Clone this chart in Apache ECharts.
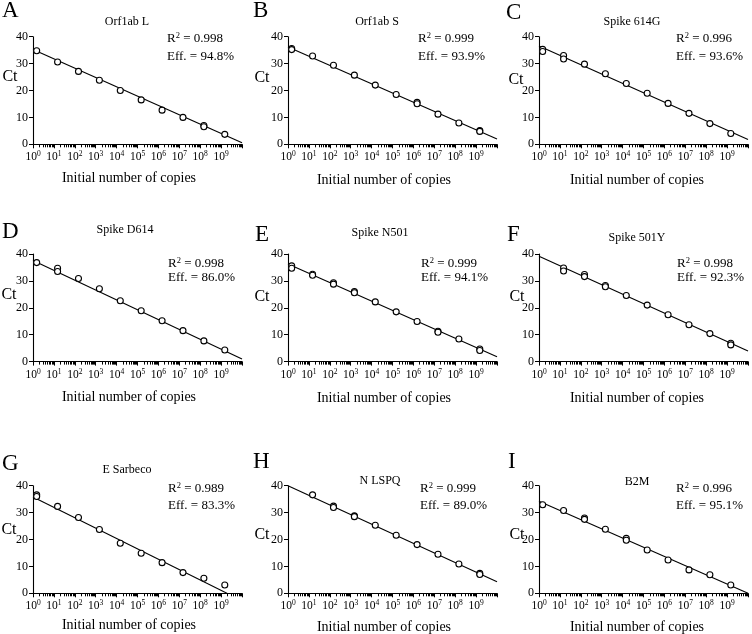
<!DOCTYPE html>
<html><head><meta charset="utf-8">
<script src="https://cdn.jsdelivr.net/npm/echarts@6/dist/echarts.min.js"></script>
<style>html,body{margin:0;padding:0;background:#fff}#c{width:752px;height:634px}</style>
</head><body><div id="c"></div>
<script>
// ---------- data ----------
const panelLetters = ['A','B','C','D','E','F','G','H','I'];
const panelTitles = ['Orf1ab L','Orf1ab S','Spike 614G','Spike D614','Spike N501','Spike 501Y','E Sarbeco','N LSPQ','B2M'];
const r2Values = ['0.998','0.999','0.996','0.998','0.999','0.998','0.989','0.999','0.996'];
const effValues = ['94.8%','93.9%','93.6%','86.0%','94.1%','92.3%','83.3%','89.0%','95.1%'];
const xTickExponents = [0,1,2,3,4,5,6,7,8,9,10];
const xLabelExponents = [0,1,2,3,4,5,6,7,8,9];
const yTicks = [0,10,20,30,40];
const xAxisTitle = 'Initial number of copies';
const yAxisTitle = 'Ct';

const copiesA = [1.5,15,150,1.5e3,1.5e4,1.5e5,1.5e6,1.5e7,1.5e8,1.5e8,1.5e9];
const ctA     = [34.8,30.6,27.1,23.8,20.0,16.5,12.7,10.0,7.0,6.5,3.7];
const fitCopiesA = [1,1e10]; const fitCtA = [35.2,0.6];

const copiesB = [1.5,1.5,15,150,1.5e3,1.5e4,1.5e5,1.5e6,1.5e6,1.5e7,1.5e8,1.5e9,1.5e9];
const ctB     = [35.6,35.2,32.8,29.4,25.7,22.0,18.5,15.6,15.1,11.2,7.9,5.1,4.8];
const fitCopiesB = [1,1e10]; const fitCtB = [36.2,2.0];

const copiesC = [1.5,1.5,15,15,150,1.5e3,1.5e4,1.5e5,1.5e6,1.5e7,1.5e8,1.5e9];
const ctC     = [35.3,34.5,33.0,31.7,29.8,26.2,22.6,19.0,15.2,11.5,7.7,4.0];
const fitCopiesC = [1,1e10]; const fitCtC = [36.5,1.8];

const copiesD = [1.5,15,15,150,1.5e3,1.5e4,1.5e5,1.5e6,1.5e7,1.5e8,1.5e9];
const ctD     = [36.8,34.7,33.5,30.9,27.1,22.6,18.9,15.2,11.5,7.7,4.3];
const fitCopiesD = [1,1e10]; const fitCtD = [37.6,1.0];

const copiesE = [1.5,1.5,15,15,150,150,1.5e3,1.5e3,1.5e4,1.5e5,1.5e6,1.5e7,1.5e7,1.5e8,1.5e9,1.5e9];
const ctE     = [35.6,34.7,32.5,32.1,29.3,28.8,26.0,25.6,22.2,18.5,14.9,11.3,10.9,8.4,4.7,4.1];
const fitCopiesE = [1,1e10]; const fitCtE = [36.3,1.8];

const copiesF = [15,15,150,150,1.5e3,1.5e3,1.5e4,1.5e5,1.5e6,1.5e7,1.5e8,1.5e9,1.5e9];
const ctF     = [34.8,33.7,32.4,31.6,28.3,27.8,24.6,21.0,17.4,13.7,10.4,6.8,6.2];
const fitCopiesF = [1,1e10]; const fitCtF = [39.2,3.9];

const copiesG = [1.5,1.5,15,150,1.5e3,1.5e4,1.5e5,1.5e6,1.5e7,1.5e8,1.5e9];
const ctG     = [36.6,36.0,32.3,28.2,23.7,18.6,14.9,11.4,7.7,5.6,3.1];
const fitCopiesG = [1,1.9e9]; const fitCtG = [35.8,0];

const copiesH = [15,150,150,1.5e3,1.5e3,1.5e4,1.5e5,1.5e6,1.5e7,1.5e8,1.5e9,1.5e9];
const ctH     = [36.6,32.4,31.9,28.8,28.5,25.3,21.6,18.1,14.5,10.9,7.4,7.0];
const fitCopiesH = [1,1e10]; const fitCtH = [40.0,4.3];

const copiesI = [1.5,15,150,150,1.5e3,1.5e4,1.5e4,1.5e5,1.5e6,1.5e7,1.5e8,1.5e9];
const ctI     = [32.9,30.8,28.0,27.5,23.8,20.4,19.7,16.1,12.4,8.7,6.9,3.1];
const fitCopiesI = [1,1e10]; const fitCtI = [34.2,0];

const copiesList = [copiesA,copiesB,copiesC,copiesD,copiesE,copiesF,copiesG,copiesH,copiesI];
const ctList = [ctA,ctB,ctC,ctD,ctE,ctF,ctG,ctH,ctI];
const fitCopiesList = [fitCopiesA,fitCopiesB,fitCopiesC,fitCopiesD,fitCopiesE,fitCopiesF,fitCopiesG,fitCopiesH,fitCopiesI];
const fitCtList = [fitCtA,fitCtB,fitCtC,fitCtD,fitCtE,fitCtF,fitCtG,fitCtH,fitCtI];

// ---------- layout ----------
const F = '"Liberation Serif", "Times New Roman", serif';
const colLeft = [33, 288, 539];
const rowTop = [36.7, 254, 485.7];
const plotW = 209, plotH = 107.6;
const titlePos  = [[127,22],[377,22],[632,22],[125,230],[380,233],[637,238],[127,470],[380,481],[637,482]];
const letterPos = [[2,11],[253,11],[506,12.5],[2,232],[255,235],[507,235],[2,463.5],[253,462],[508,462]];
const statPos   = [[167,38,57],[418,38,57],[676,38,57],[168,263,278],[421,263,278],[677,263,278],[168,488,506],[420,488,506],[676,488,506]];
const ctPos     = [[10,77],[262,78],[516,80],[9,295],[262,297],[517,297],[9,530],[262,535],[517,535]];
const xNamePos  = [[129,178],[384,180],[637,180],[129,397],[384,398],[637,398],[129,625],[384,627],[637,627]];

const majorTicks = xTickExponents.map(e => Math.pow(10, e));
const labelTicks = xLabelExponents.map(e => Math.pow(10, e));
const minorTicks = [];
for (let e = 0; e < 10; e++) for (let k = 2; k <= 9; k++) minorTicks.push(Number((k * Math.pow(10, e)).toPrecision(6)));

const grids = [], xAxes = [], yAxes = [], series = [], graphics = [];
for (let i = 0; i < 9; i++) {
  const c = i % 3, r = Math.floor(i / 3);
  grids.push({left: colLeft[c], top: rowTop[r], width: plotW, height: plotH, containLabel: false});
  xAxes.push({
    type: 'log', logBase: 10, gridIndex: i, min: 1, max: 1e10, position: 'bottom',
    axisLine: {show: true, onZero: false, lineStyle: {color: '#000', width: 1.1}},
    axisTick: {show: true, length: 4, customValues: majorTicks, lineStyle: {color: '#000', width: 1}},
    axisLabel: {
      show: true, margin: 6, customValues: labelTicks, color: '#000',
      formatter: function (v) { const e = Math.round(Math.log10(v)); return '{b|10}{s|' + e + '}'; },
      rich: {
        b: {fontFamily: F, fontSize: 11.5, color: '#000', lineHeight: 13, verticalAlign: 'bottom'},
        s: {fontFamily: F, fontSize: 7.5, color: '#000', lineHeight: 9, verticalAlign: 'top'}
      }
    },
    splitLine: {show: false}
  });
  xAxes.push({
    type: 'log', logBase: 10, gridIndex: i, min: 1, max: 1e10, position: 'bottom',
    axisLine: {show: false, onZero: false},
    axisTick: {show: true, length: 3, customValues: minorTicks, lineStyle: {color: '#000', width: 1}},
    axisLabel: {show: false},
    splitLine: {show: false}
  });
  yAxes.push({
    type: 'value', gridIndex: i, min: 0, max: 40, interval: 10,
    axisLine: {show: true, lineStyle: {color: '#000', width: 1.1}},
    axisTick: {show: true, length: 4, lineStyle: {color: '#000', width: 1}},
    axisLabel: {show: true, margin: 5, fontFamily: F, fontSize: 12, color: '#000'},
    splitLine: {show: false}
  });
  series.push({
    type: 'line', xAxisIndex: 2 * i, yAxisIndex: i, symbol: 'none', silent: true, z: 2,
    lineStyle: {color: '#000', width: 1.1},
    data: fitCopiesList[i].map((x, j) => [x, fitCtList[i][j]])
  });
  series.push({
    type: 'scatter', xAxisIndex: 2 * i, yAxisIndex: i, symbol: 'circle', symbolSize: 6, z: 3,
    itemStyle: {color: '#fff', borderColor: '#000', borderWidth: 1.1, opacity: 1},
    data: copiesList[i].map((x, j) => [x, ctList[i][j]])
  });
  // texts
  graphics.push({type: 'text', x: letterPos[i][0], y: letterPos[i][1],
    style: {text: panelLetters[i], fontFamily: F, fontSize: 23, fill: '#000', textAlign: 'left', align: 'left', textVerticalAlign: 'middle', verticalAlign: 'middle'}});
  graphics.push({type: 'text', x: titlePos[i][0], y: titlePos[i][1],
    style: {text: panelTitles[i], fontFamily: F, fontSize: 12, fill: '#000', textAlign: 'center', align: 'center', textVerticalAlign: 'middle', verticalAlign: 'middle'}});
  graphics.push({type: 'text', x: statPos[i][0], y: statPos[i][1],
    style: {text: '{r|R}{s|2}{r| = ' + r2Values[i] + '}', textAlign: 'left', align: 'left', textVerticalAlign: 'middle', verticalAlign: 'middle',
      rich: {
        r: {fontFamily: F, fontSize: 13, fill: '#000', color: '#000', lineHeight: 14, verticalAlign: 'bottom'},
        s: {fontFamily: F, fontSize: 8.5, fill: '#000', color: '#000', lineHeight: 10, verticalAlign: 'top'}
      }}});
  graphics.push({type: 'text', x: statPos[i][0], y: statPos[i][2],
    style: {text: 'Eff. = ' + effValues[i], fontFamily: F, fontSize: 13, fill: '#000', textAlign: 'left', align: 'left', textVerticalAlign: 'middle', verticalAlign: 'middle'}});
  graphics.push({type: 'text', x: ctPos[i][0], y: ctPos[i][1],
    style: {text: yAxisTitle, fontFamily: F, fontSize: 16, fill: '#000', textAlign: 'center', align: 'center', textVerticalAlign: 'middle', verticalAlign: 'middle'}});
  graphics.push({type: 'text', x: xNamePos[i][0], y: xNamePos[i][1],
    style: {text: xAxisTitle, fontFamily: F, fontSize: 14, fill: '#000', textAlign: 'center', align: 'center', textVerticalAlign: 'middle', verticalAlign: 'middle'}});
}

const chart = echarts.init(document.getElementById('c'), null, {renderer: 'canvas', width: 752, height: 634});
chart.setOption({
  backgroundColor: '#fff',
  animation: false,
  grid: grids,
  xAxis: xAxes,
  yAxis: yAxes,
  series: series,
  graphic: graphics
});
</script>
</body></html>
